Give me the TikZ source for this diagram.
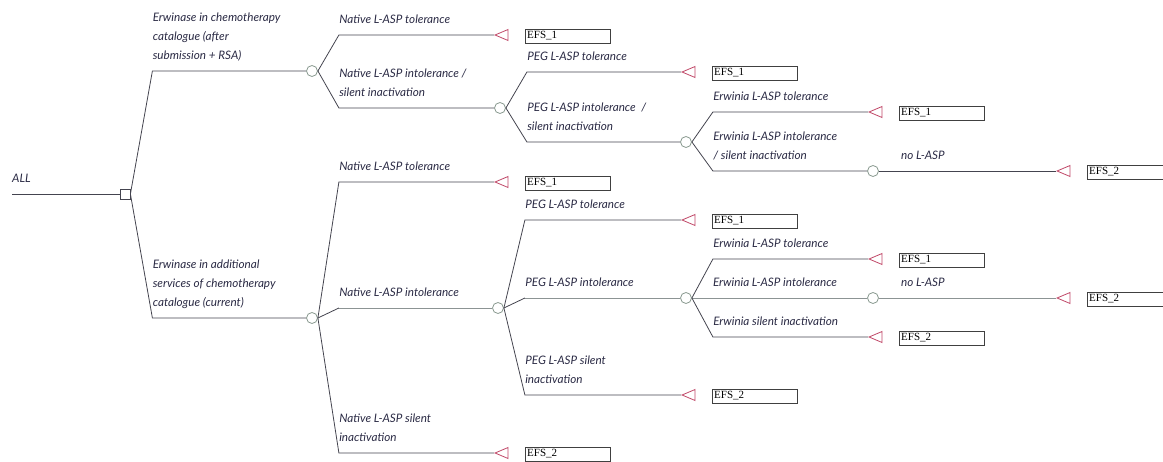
\documentclass[tikz,border=0pt]{standalone}
\usepackage{fontspec}
\setmainfont{Liberation Serif}
\newfontfamily\branchfont{Lato}
\usetikzlibrary{shapes.geometric}
\definecolor{treeline}{HTML}{44444F}
\definecolor{midline}{HTML}{8C9494}
\definecolor{chancecol}{HTML}{8A9A90}
\definecolor{termcol}{HTML}{C04868}
\definecolor{labelcol}{HTML}{2A2A44}

\begin{document}
\begin{tikzpicture}
[x=1pt, y=-1pt, font=\branchfont\itshape\fontsize{11.7}{19}\selectfont,
 edge/.style={draw=treeline, line width=0.8pt},
 midedge/.style={draw=midline, line width=0.8pt},
 decision/.style={rectangle, draw=treeline, fill=white, minimum size=10pt, inner sep=0pt, line width=0.8pt},
 chance/.style={circle, draw=chancecol, fill=white, minimum size=11pt, inner sep=0pt, line width=0.8pt},
 terminal/.style={isosceles triangle, shape border rotate=180, isosceles triangle stretches,
   draw=termcol, minimum height=13pt, minimum width=11pt, inner sep=0pt, anchor=apex, line width=0.8pt},
 payoff/.style={rectangle, draw=black!75, minimum width=85pt, minimum height=14pt, inner sep=2pt,
   anchor=west, text width=81pt, align=left, font=\rmfamily\fontsize{11}{11}\selectfont},
 branch/.style={anchor=base west, align=left, inner sep=0pt, text=labelcol, yshift=11pt}]
  \useasboundingbox (0,0) rectangle (1163,462);

  % root and decision
  \coordinate (rootin) at (12,194);
  \node[decision] (d0) at (125,194) {};
  \node[branch] (lall) at (rootin) {ALL};
  \draw[edge] (rootin) -- (d0);

  % chance nodes
  \node[chance] (c1) at (312,71) {};
  \node[chance] (c2) at (500,108) {};
  \node[chance] (c3) at (686,142) {};
  \node[chance] (c4) at (873,171) {};
  \node[chance] (c5) at (312,318) {};
  \node[chance] (c6) at (498,308) {};
  \node[chance] (c7) at (686,298) {};
  \node[chance] (c8) at (873,298) {};

  % terminal nodes
  \node[terminal] (t1) at (494,35) {};
  \node[terminal] (t2) at (681,72) {};
  \node[terminal] (t3) at (868,112) {};
  \node[terminal] (t4) at (1056,171) {};
  \node[terminal] (t5) at (494,182) {};
  \node[terminal] (t6) at (494,453) {};
  \node[terminal] (t7) at (681,220) {};
  \node[terminal] (t8) at (681,395) {};
  \node[terminal] (t9) at (868,259) {};
  \node[terminal] (t10) at (868,337) {};
  \node[terminal] (t11) at (1056,298) {};

  % payoffs
  \node[payoff] (p1) at (525,36) {EFS\_1};
  \node[payoff] (p2) at (712,73) {EFS\_1};
  \node[payoff] (p3) at (899,113) {EFS\_1};
  \node[payoff] (p4) at (1087,172) {EFS\_2};
  \node[payoff] (p5) at (525,183) {EFS\_1};
  \node[payoff] (p6) at (525,454) {EFS\_2};
  \node[payoff] (p7) at (712,221) {EFS\_1};
  \node[payoff] (p8) at (712,396) {EFS\_2};
  \node[payoff] (p9) at (899,260) {EFS\_1};
  \node[payoff] (p10) at (899,338) {EFS\_2};
  \node[payoff] (p11) at (1087,299) {EFS\_2};

  % upper tree
  \draw[edge] (d0.east) -- ([xshift=22pt]d0.east |- c1)
    node[branch] (l1) {Erwinase in chemotherapy\\catalogue (after\\submission + RSA)} -- (c1);
  \draw[edge] (c1.east) -- ([xshift=21pt]c1.east |- t1)
    node[branch] (l2) {Native L-ASP tolerance} -- (t1);
  \draw[edge] (c1.east) -- ([xshift=21pt]c1.east |- c2)
    node[branch] (l3) {Native L-ASP intolerance /\\silent inactivation} -- (c2);
  \draw[edge] (c2.east) -- ([xshift=21pt]c2.east |- t2)
    node[branch] (l4) {PEG L-ASP tolerance} -- (t2);
  \draw[edge] (c2.east) -- ([xshift=21pt]c2.east |- c3)
    node[branch] (l5) {PEG L-ASP intolerance~~/\\silent inactivation} -- (c3);
  \draw[edge] (c3.east) -- ([xshift=21pt]c3.east |- t3)
    node[branch] (l6) {Erwinia L-ASP tolerance} -- (t3);
  \draw[edge] (c3.east) -- ([xshift=21pt]c3.east |- c4)
    node[branch] (l7) {Erwinia L-ASP intolerance\\/ silent inactivation} -- (c4);
  \draw[edge] (c4.east) -- (t4);
  \node[branch] (l8) at ([xshift=22pt]c4.east) {no L-ASP};

  % lower tree
  \draw[edge] (d0.east) -- ([xshift=22pt]d0.east |- c5)
    node[branch] (l9) {Erwinase in additional\\services of chemotherapy\\catalogue (current)} -- (c5);
  \draw[edge] (c5.east) -- ([xshift=21pt]c5.east |- t5)
    node[branch] (l10) {Native L-ASP tolerance} -- (t5);
  \draw[edge] (c5.east) -- ([xshift=21pt]c5.east |- c6);
  \draw[midedge] ([xshift=21pt]c5.east |- c6)
    node[branch] (l11) {Native L-ASP intolerance} -- (c6);
  \draw[edge] (c5.east) -- ([xshift=21pt]c5.east |- t6)
    node[branch] (l12) {Native L-ASP silent\\inactivation} -- (t6);
  \draw[edge] (c6.east) -- ([xshift=21pt]c6.east |- t7)
    node[branch] (l13) {PEG L-ASP tolerance} -- (t7);
  \draw[edge] (c6.east) -- ([xshift=21pt]c6.east |- c7);
  \draw[midedge] ([xshift=21pt]c6.east |- c7)
    node[branch] (l14) {PEG L-ASP intolerance} -- (c7);
  \draw[edge] (c6.east) -- ([xshift=21pt]c6.east |- t8)
    node[branch] (l15) {PEG L-ASP silent\\inactivation} -- (t8);
  \draw[edge] (c7.east) -- ([xshift=21pt]c7.east |- t9)
    node[branch] (l16) {Erwinia L-ASP tolerance} -- (t9);
  \draw[midedge] (c7.east) -- (c8);
  \node[branch] (l17) at ([xshift=21pt]c7.east) {Erwinia L-ASP intolerance};
  \draw[edge] (c7.east) -- ([xshift=21pt]c7.east |- t10)
    node[branch] (l18) {Erwinia silent inactivation} -- (t10);
  \draw[midedge] (c8.east) -- (t11);
  \node[branch] (l19) at ([xshift=22pt]c8.east) {no L-ASP};
\end{tikzpicture}
\end{document}
